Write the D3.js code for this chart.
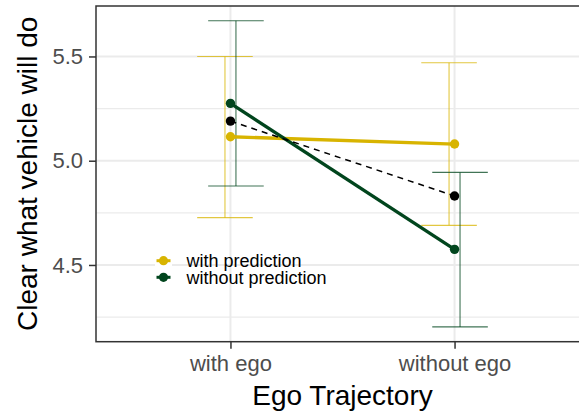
<!DOCTYPE html>
<html>
<head>
<meta charset="utf-8">
<script src="https://cdn.jsdelivr.net/npm/d3@7"></script>
<style>
  html, body { margin: 0; padding: 0; background: #fff; }
  svg { display: block; font-family: "Liberation Sans", Arial, sans-serif; }
</style>
</head>
<body>
<svg id="chart" width="579" height="413"></svg>
<script>
// ---- data ----
const categories = ["with ego", "without ego"];
const seriesNames = ["with prediction", "without prediction"];
const withPredMean = [5.115, 5.080];
const withPredLow  = [4.727, 4.690];
const withPredHigh = [5.500, 5.470];
const withoutPredMean = [5.275, 4.575];
const withoutPredLow  = [4.879, 4.203];
const withoutPredHigh = [5.671, 4.944];
const overallMean = [5.190, 4.831];
const yTicks = [4.5, 5.0, 5.5];
const yMinorTicks = [4.25, 4.75, 5.25];
const yTickLabels = ["4.5", "5.0", "5.5"];
const xTitle = "Ego Trajectory";
const yTitle = "Clear what vehicle will do";

const colors = ["#D8B400", "#01451D"];

const svg = d3.select("#chart");
const panel = { left: 96, right: 589, top: 6, bottom: 341.7 };

const x = d3.scalePoint().domain(categories).range([panel.left, panel.right]).padding(0.6);
const y = d3.scaleLinear().domain([4.132, 5.742]).range([panel.bottom, panel.top]);

const dodge = x.step() * 0.0245;
const capHalf = x.step() * 0.124;

const series = [
  { name: seriesNames[0], mean: withPredMean, low: withPredLow, high: withPredHigh, color: colors[0], off: -dodge },
  { name: seriesNames[1], mean: withoutPredMean, low: withoutPredLow, high: withoutPredHigh, color: colors[1], off: dodge }
];

// grid
const g = svg.append("g");
g.selectAll(".minor").data(yMinorTicks).join("line")
  .attr("x1", panel.left).attr("x2", panel.right)
  .attr("y1", d => y(d)).attr("y2", d => y(d))
  .attr("stroke", "#EBEBEB").attr("stroke-width", 1.1);
g.selectAll(".major").data(yTicks).join("line")
  .attr("x1", panel.left).attr("x2", panel.right)
  .attr("y1", d => y(d)).attr("y2", d => y(d))
  .attr("stroke", "#EBEBEB").attr("stroke-width", 2);
g.selectAll(".vmajor").data(categories).join("line")
  .attr("x1", d => x(d)).attr("x2", d => x(d))
  .attr("y1", panel.top).attr("y2", panel.bottom)
  .attr("stroke", "#EBEBEB").attr("stroke-width", 2);

// legend keys background (white)
const legX = 155, legW = 17, legY0 = 252.4, legH = 16.6;
seriesNames.forEach((n, i) => {
  svg.append("rect").attr("x", legX).attr("y", legY0 + i * legH)
    .attr("width", legW).attr("height", legH).attr("fill", "#fff");
});

// error bars
series.forEach(s => {
  const eg = svg.append("g").attr("stroke", s.color).attr("stroke-width", 1.1).attr("stroke-opacity", 0.75).attr("fill", "none");
  categories.forEach((c, i) => {
    const cx = x(c) + s.off;
    eg.append("line").attr("x1", cx).attr("x2", cx).attr("y1", y(s.low[i])).attr("y2", y(s.high[i]));
    eg.append("line").attr("x1", cx - capHalf).attr("x2", cx + capHalf).attr("y1", y(s.low[i])).attr("y2", y(s.low[i]));
    eg.append("line").attr("x1", cx - capHalf).attr("x2", cx + capHalf).attr("y1", y(s.high[i])).attr("y2", y(s.high[i]));
  });
});

// lines
const line = d3.line().x((d, i) => x(categories[i])).y(d => y(d));
series.forEach(s => {
  svg.append("path").attr("d", line(s.mean)).attr("fill", "none")
    .attr("stroke", s.color).attr("stroke-width", 3.3);
});
svg.append("path").attr("d", line(overallMean)).attr("fill", "none")
  .attr("stroke", "#000").attr("stroke-width", 1.5).attr("stroke-dasharray", "6,5");

// points
series.forEach(s => {
  svg.selectAll(null).data(s.mean).join("circle")
    .attr("cx", (d, i) => x(categories[i])).attr("cy", d => y(d)).attr("r", 4.7)
    .attr("fill", s.color);
});
svg.selectAll(null).data(overallMean).join("circle")
  .attr("cx", (d, i) => x(categories[i])).attr("cy", d => y(d)).attr("r", 4.7)
  .attr("fill", "#000");

// panel border
svg.append("rect").attr("x", panel.left).attr("y", panel.top)
  .attr("width", panel.right - panel.left).attr("height", panel.bottom - panel.top)
  .attr("fill", "none").attr("stroke", "#333").attr("stroke-width", 1.5);

// y axis
const yAxis = svg.append("g").attr("transform", `translate(${panel.left},0)`)
  .call(d3.axisLeft(y).tickValues(yTicks).tickSize(7).tickPadding(6)
    .tickFormat((d, i) => yTickLabels[i]));
yAxis.select(".domain").remove();
yAxis.selectAll(".tick line").attr("stroke", "#333").attr("stroke-width", 1.5);
yAxis.selectAll(".tick text").attr("fill", "#4D4D4D").attr("font-size", 22)
  .attr("font-family", "Liberation Sans, Arial, sans-serif");

// x axis
const xAxis = svg.append("g").attr("transform", `translate(0,${panel.bottom})`)
  .call(d3.axisBottom(x).tickSize(7).tickPadding(7));
xAxis.select(".domain").remove();
xAxis.selectAll(".tick line").attr("stroke", "#333").attr("stroke-width", 1.5);
xAxis.selectAll(".tick text").attr("fill", "#4D4D4D").attr("font-size", 22)
  .attr("font-family", "Liberation Sans, Arial, sans-serif");

// titles
svg.append("text").attr("x", (panel.left + panel.right) / 2).attr("y", 405)
  .attr("text-anchor", "middle").attr("font-size", 28).attr("fill", "#000").text(xTitle);
svg.append("text").attr("transform", `translate(37,${(panel.top + panel.bottom) / 2}) rotate(-90)`)
  .attr("text-anchor", "middle").attr("font-size", 28).attr("fill", "#000").text(yTitle);

// legend
series.forEach((s, i) => {
  const cy = legY0 + i * legH + legH / 2;
  svg.append("line").attr("x1", legX + 1.5).attr("x2", legX + legW - 1.5).attr("y1", cy).attr("y2", cy)
    .attr("stroke", s.color).attr("stroke-width", 3);
  svg.append("circle").attr("cx", legX + legW / 2).attr("cy", cy).attr("r", 4.6).attr("fill", s.color);
  svg.append("text").attr("x", 186.5).attr("y", cy).attr("dy", "0.35em")
    .attr("font-size", 18).attr("fill", "#000").text(s.name);
});
</script>
</body>
</html>
